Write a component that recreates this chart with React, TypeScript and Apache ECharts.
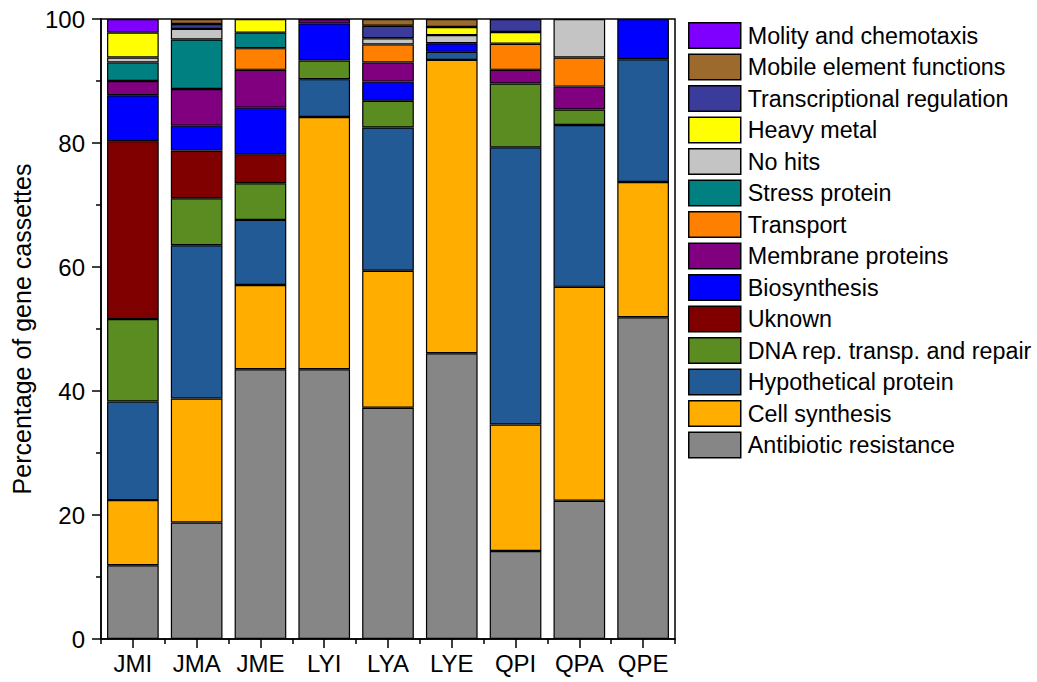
import React, { useEffect, useRef } from "react";
import * as echarts from "echarts";

const categories = ["JMI", "JMA", "JME", "LYI", "LYA", "LYE", "QPI", "QPA", "QPE"];

const antibioticResistance = [11.9, 18.8, 43.5, 43.5, 37.3, 46.1, 14.2, 22.3, 51.9];
const cellSynthesis = [10.5, 20.0, 13.6, 40.7, 22.1, 47.3, 20.4, 34.5, 21.8];
const hypotheticalProtein = [15.9, 24.7, 10.5, 6.1, 23.1, 1.3, 44.7, 26.1, 19.8];
const dnaRepair = [13.3, 7.6, 5.9, 3.0, 4.3, 0, 10.3, 2.5, 0];
const unknown = [28.7, 7.7, 4.7, 0, 0, 0, 0, 0, 0];
const biosynthesis = [7.4, 4.0, 7.5, 6.0, 3.1, 1.4, 0, 0, 6.5];
const membraneProteins = [2.3, 5.9, 6.1, 0.7, 3.1, 0, 2.2, 3.7, 0];
const transport = [0, 0, 3.5, 0, 2.9, 0, 4.2, 4.7, 0];
const stressProtein = [3.0, 8.0, 2.5, 0, 0, 0, 0, 0, 0];
const noHits = [0.8, 1.7, 0, 0, 1.0, 1.3, 0, 6.2, 0];
const heavyMetal = [4.0, 0, 2.2, 0, 0, 1.3, 1.9, 0, 0];
const transcriptionalRegulation = [0, 0.8, 0, 0, 2.0, 0, 2.1, 0, 0];
const mobileElement = [0, 0.8, 0, 0, 1.1, 1.3, 0, 0, 0];
const molityChemotaxis = [2.2, 0, 0, 0, 0, 0, 0, 0, 0];

const yTicks = { min: 0, max: 100, interval: 20 };

const seriesDefs = [
  { name: "Antibiotic resistance", data: antibioticResistance, color: "#868686" },
  { name: "Cell synthesis", data: cellSynthesis, color: "#FFAE00" },
  { name: "Hypothetical protein", data: hypotheticalProtein, color: "#215A95" },
  { name: "DNA rep. transp. and repair", data: dnaRepair, color: "#5B8C22" },
  { name: "Uknown", data: unknown, color: "#800000" },
  { name: "Biosynthesis", data: biosynthesis, color: "#0000FF" },
  { name: "Membrane proteins", data: membraneProteins, color: "#800080" },
  { name: "Transport", data: transport, color: "#FF8000" },
  { name: "Stress protein", data: stressProtein, color: "#008080" },
  { name: "No hits", data: noHits, color: "#C4C4C4" },
  { name: "Heavy metal", data: heavyMetal, color: "#FFFF00" },
  { name: "Transcriptional regulation", data: transcriptionalRegulation, color: "#3B3B9C" },
  { name: "Mobile element functions", data: mobileElement, color: "#9C6A2C" },
  { name: "Molity and chemotaxis", data: molityChemotaxis, color: "#8000FF" },
];

const FONT = "'Liberation Sans', Arial, sans-serif";

export default function App() {
  const ref = useRef<HTMLDivElement>(null);
  useEffect(() => {
    if (!ref.current) return;
    const chart = echarts.init(ref.current, null, { renderer: "svg" });
    chart.setOption({
      animation: false,
      backgroundColor: "#fff",
      textStyle: { fontFamily: FONT },
      grid: {
        left: 101,
        top: 19,
        width: 574,
        height: 620,
        show: true,
        borderColor: "#000",
        borderWidth: 1.5,
        backgroundColor: "transparent",
      },
      legend: {
        orient: "vertical",
        left: 688,
        top: 22,
        padding: 0,
        itemWidth: 52,
        itemHeight: 25.6,
        itemGap: 4.4,
        icon: "rect",
        data: seriesDefs.map((s) => s.name).reverse(),
        textStyle: {
          fontSize: 23.3,
          lineHeight: 25,
          color: "#000",
          fontFamily: FONT,
          padding: [0, 0, 0, 2],
        },
        itemStyle: { borderColor: "#000", borderWidth: 1.5 },
        selectedMode: false,
      },
      xAxis: [
        {
          type: "category",
          data: categories,
          position: "bottom",
          axisLine: { show: true, lineStyle: { color: "#000", width: 1.5 } },
          axisTick: { show: true, alignWithLabel: true, interval: 0, length: 9, lineStyle: { color: "#000", width: 1.5 } },
          axisLabel: { fontSize: 24, color: "#000", margin: 12, interval: 0, fontFamily: FONT },
        },
        {
          type: "category",
          data: categories,
          position: "bottom",
          axisLine: { show: false },
          axisTick: { show: true, alignWithLabel: false, interval: 0, length: 5, lineStyle: { color: "#000", width: 1.5 } },
          axisLabel: { show: false },
        },
      ],
      yAxis: {
        type: "value",
        min: yTicks.min,
        max: yTicks.max,
        interval: yTicks.interval,
        name: "Percentage of gene cassettes",
        nameLocation: "middle",
        nameGap: 65,
        nameTextStyle: { fontSize: 25, color: "#000", fontFamily: FONT },
        axisLine: { show: true, lineStyle: { color: "#000", width: 1.5 } },
        axisTick: { show: true, length: 9, lineStyle: { color: "#000", width: 1.5 } },
        minorTick: { show: true, splitNumber: 2, length: 5, lineStyle: { color: "#000", width: 1.5 } },
        splitLine: { show: false },
        axisLabel: { fontSize: 24, color: "#000", margin: 16, fontFamily: FONT },
      },
      series: seriesDefs.map((s) => ({
        name: s.name,
        type: "bar",
        stack: "total",
        xAxisIndex: 0,
        barWidth: "81%",
        data: s.data.map((v) => (v === 0 ? "-" : v)),
        itemStyle: { color: s.color, borderColor: "#000", borderWidth: 1.2 },
        emphasis: { disabled: true },
      })),
    });
    return () => chart.dispose();
  }, []);
  return (
    <div
      ref={ref}
      style={{ position: "fixed", left: 0, top: 0, width: 1037, height: 682, background: "#fff" }}
    />
  );
}
